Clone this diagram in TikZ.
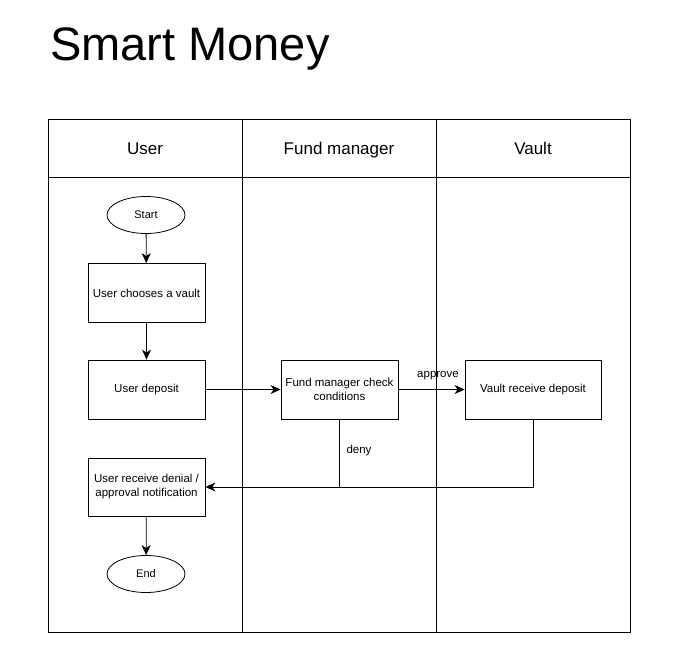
\documentclass[tikz,border=0pt]{standalone}
\usepackage{fontspec}
\setmainfont{Liberation Sans}
\usetikzlibrary{arrows.meta,shapes.geometric}
\begin{document}
\begin{tikzpicture}[x=1pt,y=-1pt,
  lane/.style={draw, line width=0.8pt},
  box/.style={draw, line width=0.8pt, rectangle, minimum width=117pt, minimum height=59pt, align=center, font=\fontsize{11.5}{14}\selectfont, inner sep=1pt},
  oval/.style={draw, line width=0.8pt, ellipse, minimum width=78pt, minimum height=37pt, inner sep=0pt, font=\fontsize{11}{13}\selectfont},
  conn/.style={draw, line width=0.8pt, -{Stealth[length=10pt,width=9pt,inset=3pt]}},
  plain/.style={draw, line width=0.8pt},
  lbl/.style={font=\fontsize{11.5}{13}\selectfont, inner sep=0pt},
  hdr/.style={font=\fontsize{17}{20}\selectfont, inner sep=0pt, anchor=base}]
\useasboundingbox (0,0) rectangle (675,649);
% title
\node[anchor=west, font=\fontsize{47}{52}\selectfont, inner sep=0pt] (title) at (50,49) {Smart Money};
% frame
\draw[lane] (48,119) rectangle (630,632);
\draw[lane] (48,177) -- (630,177);
\draw[lane] (242,119) -- (242,632);
\draw[lane] (436,119) -- (436,632);
\node[hdr] (h1) at (145,154) {User};
\node[hdr] (h2) at (339,154) {Fund manager};
\node[hdr] (h3) at (533,154) {Vault};
% nodes
\node[oval] (start) at (146,215) {Start};
\node[box] (choose) at (146.5,293) {User chooses a vault};
\node[box] (deposit) at (146.5,389.5) {User deposit};
\node[box] (check) at (339.5,389.5) {Fund manager check\\conditions};
\node[box, minimum width=136pt] (receive) at (533,389.5) {Vault receive deposit};
\node[box, minimum height=58pt] (notify) at (146.5,487) {User receive denial /\\approval notification};
\node[oval] (end) at (146,574) {End};
% connectors
\draw[conn] (start) -- (choose);
\draw[conn] (choose) -- (deposit);
\draw[conn] (deposit) -- (check);
\draw[conn] (check) -- (receive);
\coordinate (dj) at (check.south |- notify.east);
\draw[plain] (check.south) -- (dj);
\draw[conn] (receive.south) |- (notify.east);
\draw[conn] (notify) -- (end);
\node[lbl] (deny) at (359,451) {deny};
\node[lbl] (approve) at (438,376) {approve};
\end{tikzpicture}
\end{document}
